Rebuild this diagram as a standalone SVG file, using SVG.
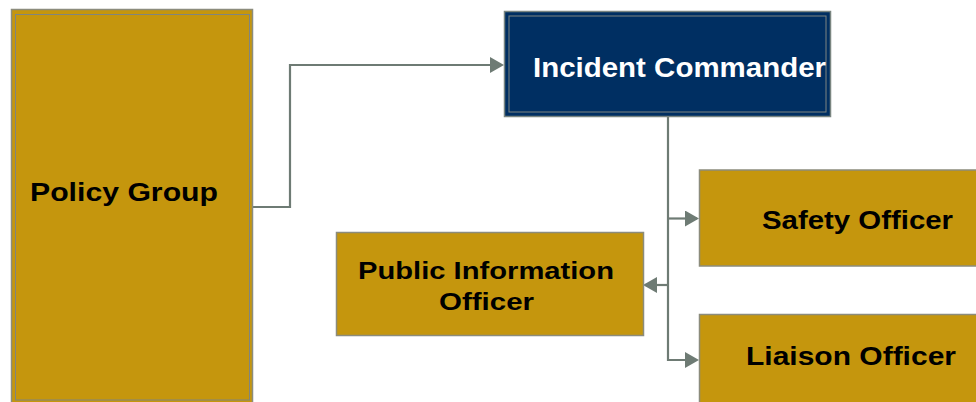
<svg xmlns="http://www.w3.org/2000/svg" width="976" height="402" viewBox="0 0 976 402">
<style>
.gold{fill:#c5960d;stroke:#8c8c7c;stroke-width:1.5}
.navy{fill:#002f62;stroke:#7a8580;stroke-width:1.5}
.inner{fill:none;stroke:#7f8580;stroke-width:1}
.lbl{font-family:"Liberation Sans",Arial,sans-serif;font-weight:bold;fill:#000}
.wlbl{font-family:"Liberation Sans",Arial,sans-serif;font-weight:bold;fill:#fff}
.conn{fill:none;stroke:#6e7b74;stroke-width:2.2}
</style>
<defs>
<marker id="arr" markerUnits="userSpaceOnUse" markerWidth="14" markerHeight="16" refX="12" refY="8" orient="auto" viewBox="0 0 14 16">
<path d="M0,0 L14,8 L0,16 z" fill="#6e7b74"/>
</marker>
</defs>
<g id="connectors">
<path class="conn" d="M253,207 H290 V65 H502" marker-end="url(#arr)"/>
<path class="conn" d="M668,117 V360 H697" marker-end="url(#arr)"/>
<path class="conn" d="M668,218.5 H697" marker-end="url(#arr)"/>
<path class="conn" d="M668,285 H645" marker-end="url(#arr)"/>
</g>
<g id="policy-group">
<rect class="gold" x="11.5" y="9.5" width="241" height="400"/>
<rect class="inner" x="15.5" y="14.5" width="234" height="385.5"/>
<text class="lbl" x="30" y="201" font-size="25" textLength="188" lengthAdjust="spacingAndGlyphs">Policy Group</text>
</g>
<g id="incident-commander">
<rect class="navy" x="504.5" y="11.5" width="326" height="105"/>
<rect class="inner" x="509" y="16" width="317" height="96"/>
<text class="wlbl" x="533" y="76.5" font-size="27" textLength="293" lengthAdjust="spacingAndGlyphs">Incident Commander</text>
</g>
<g id="safety-officer">
<rect class="gold" x="699.5" y="170" width="300" height="96"/>
<text class="lbl" x="762" y="228.5" font-size="25.5" textLength="191" lengthAdjust="spacingAndGlyphs">Safety Officer</text>
</g>
<g id="public-information-officer">
<rect class="gold" x="336.5" y="232.5" width="307" height="103"/>
<text class="lbl" x="358" y="279" font-size="24" textLength="256" lengthAdjust="spacingAndGlyphs">Public Information</text>
<text class="lbl" x="439" y="309.5" font-size="24" textLength="95" lengthAdjust="spacingAndGlyphs">Officer</text>
</g>
<g id="liaison-officer">
<rect class="gold" x="699.5" y="314.5" width="300" height="100"/>
<text class="lbl" x="746" y="364.5" font-size="25.5" textLength="210" lengthAdjust="spacingAndGlyphs">Liaison Officer</text>
</g>
</svg>
